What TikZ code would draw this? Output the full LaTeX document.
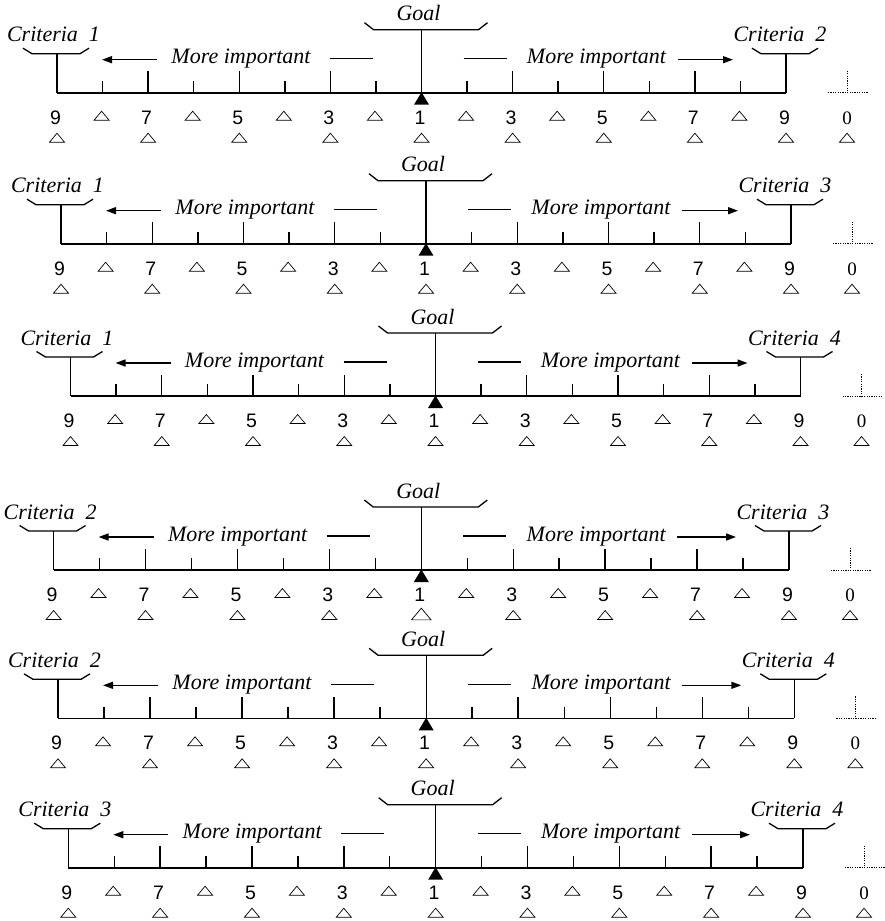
\documentclass[tikz,border=0pt]{standalone}
\usepackage{fontspec}
\setmainfont{Liberation Serif}
\newfontfamily\numfont{Liberation Sans}
\usetikzlibrary{arrows.meta}
\tikzset{
  axisline/.style={line width=1.6pt},
  tickline/.style={line width=1.4pt},
  goalline/.style={line width=1.2pt},
  bracketline/.style={line width=1.3pt},
  arrowline/.style={line width=1.5pt,-{Triangle[length=10pt,width=7pt]}},
  dashline/.style={line width=1.5pt},
  labeltext/.style={font=\fontsize{22}{22}\selectfont\itshape, inner sep=0pt, anchor=base},
  numtext/.style={font=\numfont\fontsize{19.5}{19.5}\selectfont, inner sep=0pt, anchor=base},
  zerotext/.style={font=\fontsize{19}{19}\selectfont, inner sep=0pt, anchor=base},
  dotline/.style={line width=0.9pt, dash pattern=on 1.2pt off 1.2pt},
  opentri/.pic={\draw[line width=0.7pt, fill=white, line join=miter] (-7.5,4.5) -- (7.5,4.5) -- (0,-4.5) -- cycle;},
}
% #1 tag, #2 left x, #3 baseline y, #4 right x, #5 left criterion, #6 right criterion
\newcommand\ahprow[6]{%
  \pgfmathsetmacro\rwL{#2}%
  \pgfmathsetmacro\rwB{#3}%
  \pgfmathsetmacro\rwR{#4}%
  \pgfmathsetmacro\rwD{(\rwR-\rwL)/16}%
  \pgfmathsetmacro\rwC{\rwL+8*\rwD}%
  \coordinate (#1-l) at (\rwL,\rwB);
  \coordinate (#1-r) at (\rwR,\rwB);
  \coordinate (#1-c) at (\rwC,\rwB);
  \coordinate (#1-lt) at (\rwL,\rwB-39);
  \coordinate (#1-rt) at (\rwR,\rwB-39);
  \coordinate (#1-ct) at (\rwC,\rwB-63);
  % axis
  \draw[axisline] (#1-l) -- (#1-r);
  % criteria posts and brackets
  \draw[tickline] (#1-l) -- (#1-lt);
  \draw[tickline] (#1-r) -- (#1-rt);
  \draw[bracketline] (\rwL-34,\rwB-44.5) -- (\rwL-25,\rwB-39) -- (\rwL+23,\rwB-39) -- (\rwL+32,\rwB-44.5);
  \draw[bracketline] (\rwR-34,\rwB-44.5) -- (\rwR-25,\rwB-39) -- (\rwR+23,\rwB-39) -- (\rwR+32,\rwB-44.5);
  % goal post and bracket
  \draw[goalline] (#1-c) -- (#1-ct);
  \draw[bracketline] (\rwC-57,\rwB-70) -- (\rwC-48,\rwB-63) -- (\rwC+57,\rwB-63) -- (\rwC+66,\rwB-70);
  % ticks
  \foreach \i in {1,3,...,15} {\draw[tickline] (\rwL+\i*\rwD,\rwB) -- (\rwL+\i*\rwD,\rwB-11.7);}
  \foreach \i in {2,4,6,10,12,14} {\draw[tickline] (\rwL+\i*\rwD,\rwB) -- (\rwL+\i*\rwD,\rwB-21.5);}
  % black pointer
  \fill (\rwC,\rwB-0.5) -- (\rwC-7.5,\rwB+12) -- (\rwC+7.5,\rwB+12) -- cycle;
  % texts
  \node[labeltext] (#1-goal) at (\rwC-3,\rwB-72) {Goal};
  \node[labeltext] (#1-lc) at (\rwL-3.5,\rwB-51) {Criteria\ \ #5};
  \node[labeltext] (#1-rc) at (\rwR-6,\rwB-51) {Criteria\ \ #6};
  \node[labeltext] (#1-lm) at (\rwL+184,\rwB-29) {More important};
  \node[labeltext] (#1-rm) at (\rwC+175,\rwB-29) {More important};
  % arrows and dashes
  \coordinate (#1-a1s) at (\rwL+100,\rwB-33);
  \coordinate (#1-a1e) at (\rwL+45,\rwB-33);
  \coordinate (#1-d1s) at (\rwL+273,\rwB-34);
  \coordinate (#1-d1e) at (\rwL+316,\rwB-34);
  \coordinate (#1-d2s) at (\rwC+42,\rwB-34);
  \coordinate (#1-d2e) at (\rwC+85,\rwB-34);
  \coordinate (#1-a2s) at (\rwC+256,\rwB-33);
  \coordinate (#1-a2e) at (\rwR-53,\rwB-33);
  \draw[arrowline] (#1-a1s) -- (#1-a1e);
  \draw[dashline] (#1-d1s) -- (#1-d1e);
  \draw[dashline] (#1-d2s) -- (#1-d2e);
  \draw[arrowline] (#1-a2s) -- (#1-a2e);
  % numbers
  \foreach \i/\n in {0/9,2/7,4/5,6/3,8/1,10/3,12/5,14/7,16/9} {\node[numtext] (#1-n\i) at (\rwL+\i*\rwD-1.5,\rwB+31.3) {\n};}
  % open triangles
  \foreach \i in {1,3,...,15} {\pic at (\rwL+\i*\rwD-1,\rwB+23) {opentri};}
  \foreach \i in {0,2,...,16} {\pic at (\rwL+\i*\rwD,\rwB+45) {opentri};}
  % zero scale
  \coordinate (#1-zl) at (\rwR+42,\rwB);
  \coordinate (#1-zr) at (\rwR+82,\rwB);
  \coordinate (#1-zb) at (\rwR+61,\rwB);
  \coordinate (#1-zt) at (\rwR+61,\rwB-22);
  \draw[dotline] (#1-zl) -- (#1-zr);
  \draw[dotline] (#1-zt) -- (#1-zb);
  \node[zerotext] (#1-zero) at (\rwR+61,\rwB+31.3) {0};
  \pic at (\rwR+61,\rwB+45) {opentri};
}
\begin{document}
\begin{tikzpicture}[x=1pt,y=-1pt]
\useasboundingbox (0,0) rectangle (884,921);
\ahprow{r1}{57}{92.7}{786}{1}{2}
\ahprow{r2}{61}{243.7}{791}{1}{3}
\ahprow{r3}{70.5}{396}{800.5}{1}{4}
\ahprow{r4}{53.6}{570}{789}{2}{3}
\ahprow{r5}{58}{718.3}{794.3}{2}{4}
\ahprow{r6}{68.3}{867.7}{803}{3}{4}
\pic[scale=1.3] at ([yshift=-44pt]r4-c) {opentri};
\end{tikzpicture}
\end{document}
